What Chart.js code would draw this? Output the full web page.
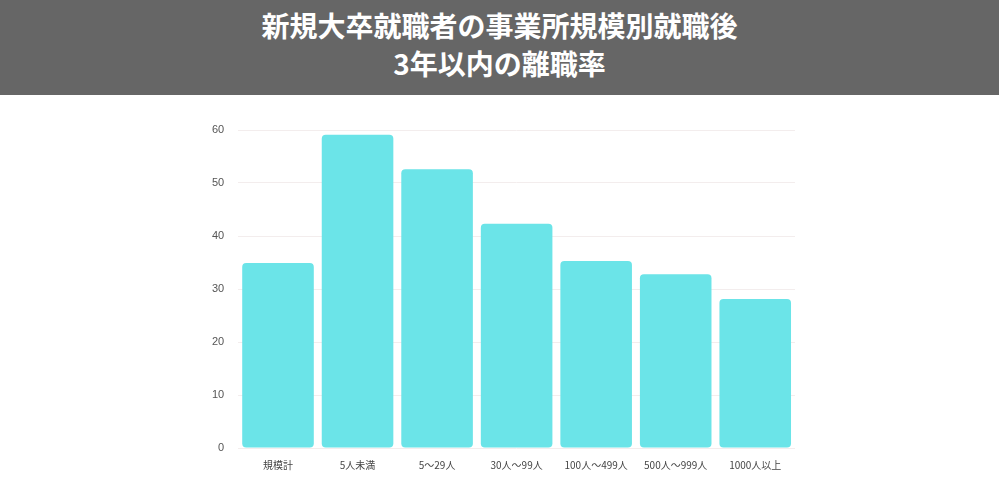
<!DOCTYPE html>
<html><head><meta charset="utf-8">
<script src="https://cdn.jsdelivr.net/npm/chart.js@4"></script>
<style>
body{margin:0;width:999px;height:480px;background:#fff;overflow:hidden;font-family:"Noto Sans CJK JP",sans-serif}
#hd{height:95px;background:#666;color:#fff;font-weight:bold;font-size:28px;line-height:38px;text-align:center;padding-top:6px;box-sizing:border-box}
#wrap{position:absolute;left:0;top:95px;width:999px;height:385px}
</style></head><body>
<div id="hd">新規大卒就職者の事業所規模別就職後<br>3年以内の離職率</div>
<div id="wrap"><canvas id="c"></canvas></div>
<script>
const categories=["規模計","5人未満","5～29人","30人～99人","100人～499人","500人～999人","1000人以上"];
const values=[34.9,59.1,52.6,42.3,35.3,32.8,28.1];
new Chart(document.getElementById('c'),{
 type:'bar',
 data:{labels:categories,datasets:[{data:values,backgroundColor:'#6be4e8',borderRadius:4,borderSkipped:false,barPercentage:0.9,categoryPercentage:1}]},
 options:{responsive:true,maintainAspectRatio:false,animation:false,
  layout:{padding:{left:198,right:204,top:35,bottom:6}},
  plugins:{legend:{display:false},tooltip:{enabled:false}},
  scales:{
   x:{grid:{display:false},border:{display:false},ticks:{color:'#444',font:{size:10,family:"Noto Sans CJK JP"}}},
   y:{min:0,max:60,ticks:{stepSize:10,color:'#555',font:{size:11},padding:14},grid:{color:'#f3eded',drawTicks:false},border:{display:false}}
  }}
});
</script></body></html>
